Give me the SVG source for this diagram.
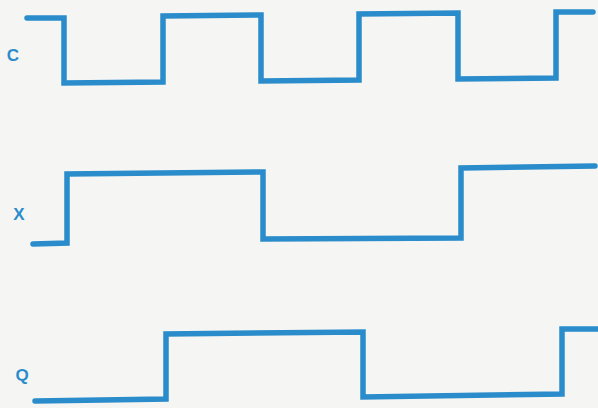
<svg xmlns="http://www.w3.org/2000/svg" width="598" height="408" viewBox="0 0 598 408">
<style>
.w{fill:none;stroke:#2a8ccb;stroke-width:5.5;stroke-linejoin:miter;stroke-linecap:round}
.l{font-family:"Liberation Sans",Arial,sans-serif;font-weight:bold;font-size:17px;fill:#2a8ccb;text-anchor:middle}
</style>
<rect width="598" height="408" fill="#f5f5f3"/>
<g id="labels">
<text class="l" x="13" y="61">C</text>
<text class="l" x="19" y="220">X</text>
<text class="l" x="22" y="381">Q</text>
</g>
<g id="waves">
<path id="C" class="w" d="M27,18 L64,18 L64,83 L163,82 L163,16 L261,15 L261,81 L359,80 L359,14 L458,13 L458,79 L556,78 L556,12 L593,12"/>
<path id="X" class="w" d="M33,244 L67,243 L67,174 L263,172 L263,239 L461,238 L461,168 L595,166"/>
<path id="Q" class="w" d="M35,401 L166,399 L166,334 L363,332 L363,397 L562,394 L562,329 L598,329"/>
</g>
</svg>
